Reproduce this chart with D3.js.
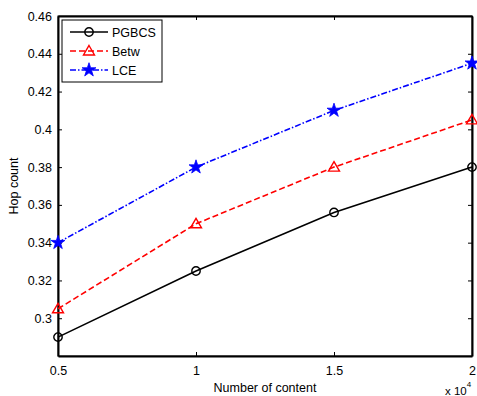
<!DOCTYPE html>
<html>
<head>
<meta charset="utf-8">
<script src="https://cdn.jsdelivr.net/npm/d3@7"></script>
<style>
body { margin: 0; background: #fff; }
text { font-family: "Liberation Sans", Arial, sans-serif; }
</style>
</head>
<body>
<div id="chart"></div>
<script>
// data
var contents = [0.5, 1, 1.5, 2];
var pgbcs = [0.29, 0.325, 0.356, 0.38];
var betw = [0.305, 0.35, 0.38, 0.405];
var lce = [0.34, 0.38, 0.41, 0.435];
var xTicks = [0.5, 1, 1.5, 2];
var yTicks = [0.3, 0.32, 0.34, 0.36, 0.38, 0.4, 0.42, 0.44, 0.46];

var series = [
    {name: 'PGBCS', values: pgbcs, color: '#000', dash: null, marker: 'circle'},
    {name: 'Betw', values: betw, color: '#ff0000', dash: '6,3', marker: 'triangle'},
    {name: 'LCE', values: lce, color: '#0000ff', dash: '6,2,1.5,2', marker: 'star'}
];

var fs = "12.5px";
var margin = {top: 16, right: 5, bottom: 40, left: 58},
    width = 477 - margin.left - margin.right,
    height = 396 - margin.top - margin.bottom;

var svg = d3.select("#chart").append("svg")
    .attr("width", 477)
    .attr("height", 396)
    .append("g")
    .attr("transform", "translate(" + margin.left + "," + margin.top + ")");

var x = d3.scaleLinear().domain([0.5, 2]).range([0, width]);
var y = d3.scaleLinear().domain([0.28, 0.46]).range([height, 0]);

// box
svg.append("rect")
    .attr("width", width).attr("height", height)
    .attr("fill", "none").attr("stroke", "#000").attr("stroke-width", 1);

var tk = 4;
// x axis, ticks pointing inward
svg.append("g")
    .attr("transform", "translate(0," + height + ")")
    .call(d3.axisBottom(x).tickValues(xTicks).tickSizeInner(-tk).tickSizeOuter(0)
        .tickPadding(10).tickFormat(d3.format("")));
svg.append("g")
    .call(d3.axisTop(x).tickValues(xTicks).tickSizeInner(-tk).tickSizeOuter(0).tickFormat(""));
// y axis
svg.append("g")
    .call(d3.axisLeft(y).tickValues(yTicks).tickSizeInner(-tk).tickSizeOuter(0)
        .tickPadding(6).tickFormat(d3.format("")));
svg.append("g")
    .attr("transform", "translate(" + width + ",0)")
    .call(d3.axisRight(y).tickValues(yTicks).tickSizeInner(-tk).tickSizeOuter(0).tickFormat(""));

svg.selectAll(".domain").attr("stroke", "#000").attr("stroke-width", 2);
svg.selectAll(".tick line").attr("stroke", "#000");
svg.selectAll(".tick text").attr("font-size", fs).attr("fill", "#000")
    .style("font-family", "Liberation Sans, Arial, sans-serif");

// labels
svg.append("text")
    .attr("x", width / 2).attr("y", height + 36)
    .attr("text-anchor", "middle").attr("font-size", fs)
    .text("Number of content");
svg.append("text")
    .attr("transform", "rotate(-90)")
    .attr("x", -height / 2).attr("y", -40)
    .attr("text-anchor", "middle").attr("font-size", fs)
    .text("Hop count");
var exp = svg.append("text")
    .attr("x", width - 27).attr("y", height + 39)
    .attr("font-size", "11.5px");
exp.append("tspan").text("x 10");
exp.append("tspan").attr("dy", -8).attr("font-size", "8px").text("4");

function drawMarker(g, type, color) {
    if (type === 'circle') {
        g.append("circle").attr("r", 4.2)
            .attr("fill", "none").attr("stroke", color).attr("stroke-width", 1.4);
    } else if (type === 'triangle') {
        g.append("path").attr("d", "M0,-5.5L5.5,4L-5.5,4Z")
            .attr("fill", "none").attr("stroke", color).attr("stroke-width", 1.4);
    } else {
        g.append("path").attr("d", d3.symbol().type(d3.symbolStar).size(60)())
            .attr("fill", color).attr("stroke", color).attr("stroke-width", 0.8);
    }
}

var line = d3.line()
    .x(function (d, i) { return x(contents[i]); })
    .y(function (d) { return y(d); });

series.forEach(function (s) {
    svg.append("path")
        .datum(s.values)
        .attr("d", line)
        .attr("fill", "none")
        .attr("stroke", s.color)
        .attr("stroke-width", 1.6)
        .attr("stroke-dasharray", s.dash);
    s.values.forEach(function (v, i) {
        var g = svg.append("g")
            .attr("transform", "translate(" + x(contents[i]) + "," + y(v) + ")");
        drawMarker(g, s.marker, s.color);
    });
});

// legend
var legend = svg.append("g").attr("transform", "translate(4,4)");
legend.append("rect")
    .attr("width", 100).attr("height", 62)
    .attr("fill", "#fff").attr("stroke", "#000").attr("stroke-width", 1);
series.forEach(function (s, i) {
    var ly = 12 + i * 19;
    legend.append("line")
        .attr("x1", 8).attr("x2", 46).attr("y1", ly).attr("y2", ly)
        .attr("stroke", s.color).attr("stroke-width", 1.6)
        .attr("stroke-dasharray", s.dash);
    var g = legend.append("g").attr("transform", "translate(27," + ly + ")");
    drawMarker(g, s.marker, s.color);
    legend.append("text")
        .attr("x", 50).attr("y", ly + 4.5)
        .attr("font-size", fs)
        .text(s.name);
});
</script>
</body>
</html>
